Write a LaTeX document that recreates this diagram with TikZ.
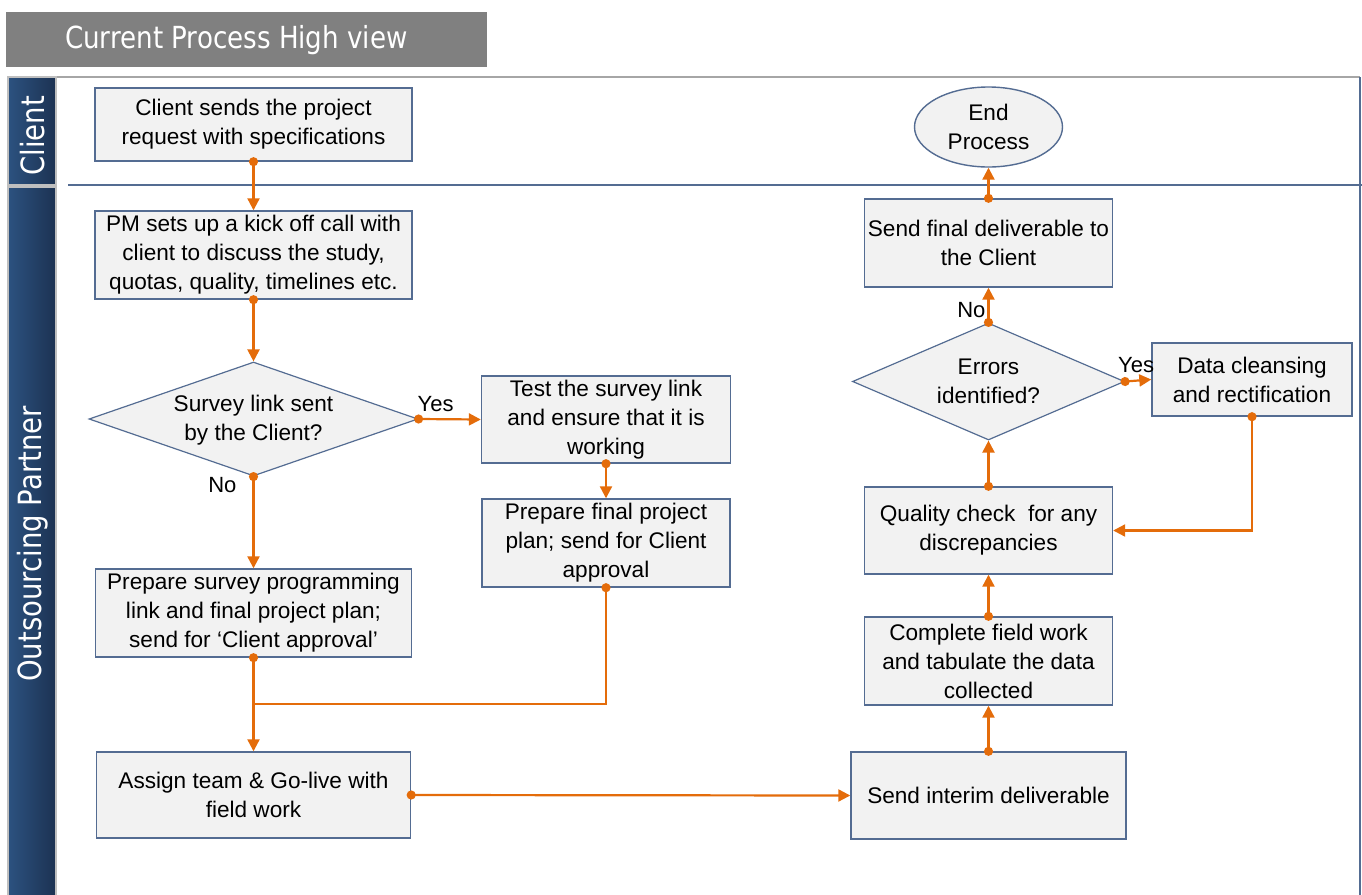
\documentclass[tikz,border=0pt]{standalone}
\usepackage{fontspec}
\setmainfont{Liberation Sans}
\newfontfamily\lanefont[FakeStretch=0.86]{DejaVu Sans}
\usetikzlibrary{shapes.geometric,arrows.meta}

\definecolor{procorange}{RGB}{228,108,10}
\definecolor{boxfill}{RGB}{242,242,242}
\definecolor{boxline}{RGB}{84,108,146}
\definecolor{laneblue}{RGB}{44,82,128}
\definecolor{lanedark}{RGB}{28,50,82}
\definecolor{titlegray}{RGB}{128,128,128}

\tikzset{
  procbox/.style={draw=boxline, fill=boxfill, line width=0.7pt, align=center,
    inner sep=1pt, font=\fontsize{11.3}{14.5}\selectfont},
  decision/.style={diamond, draw=boxline, fill=boxfill, line width=0.6pt, inner sep=0pt},
  flow/.style={draw=procorange, line width=1.1pt, shorten <=-2.25pt,
    {Circle[length=4.5pt]}-{Triangle[length=6pt,width=6pt]}},
  flowline/.style={draw=procorange, line width=1.1pt, shorten <=-2.25pt, {Circle[length=4.5pt]}-},
  lbl/.style={font=\fontsize{11}{13}\selectfont, inner sep=1pt},
  lanelbl/.style={rotate=90, text=white, font=\lanefont\fontsize{16}{19}\selectfont},
}

\begin{document}
\begin{tikzpicture}[x=0.5pt,y=-0.5pt]
  \useasboundingbox (0,0) rectangle (1362,895);

  % title and swimlanes
  \fill[titlegray] (6,12) rectangle (487,67);
  \node[anchor=west, text=white, font=\lanefont\fontsize{15.2}{18}\selectfont] (title) at (58,40) {Current Process High view};
  \draw[gray!70, line width=0.8pt] (8,77) -- (1360,77);
  \draw[boxline, line width=1pt] (1360,77) -- (1360,895);
  \shade[left color=laneblue, right color=lanedark, draw=gray!50, line width=1pt] (8,77) rectangle (56,185);
  \shade[left color=laneblue, right color=lanedark, draw=gray!50, line width=1pt] (8,187) rectangle (56,900);
  \node[lanelbl] (clientlane) at (33,136) {Client};
  \node[lanelbl] (partnerlane) at (33,544) {Outsourcing Partner};
  \draw[boxline, line width=1.2pt] (68,185) -- (1362,185);

  % left column
  \node[procbox, minimum width=158.5pt, minimum height=36.5pt] (request) at (253.5,124.5)
    {Client sends the project\\request with specifications};
  \node[procbox, minimum width=158.5pt, minimum height=44pt] (kickoff) at (253.5,255)
    {PM sets up a kick off call with\\client to discuss the study,\\quotas, quality, timelines etc.};
  \node[decision, minimum width=164.5pt, minimum height=57pt] (linksent) at (253.5,419) {};
  \node[align=center, font=\fontsize{11.3}{14.5}\selectfont] (linksenttxt) at (253.5,420)
    {Survey link sent\\by the Client?};
  \node[procbox, minimum width=158pt, minimum height=44pt] (progplan) at (253.5,613)
    {Prepare survey programming\\link and final project plan;\\send for `Client approval'};
  \node[procbox, minimum width=157pt, minimum height=43pt] (golive) at (253.5,795)
    {Assign team \& Go-live with\\field work};

  % middle column
  \node[procbox, minimum width=124.5pt, minimum height=43.5pt] (testlink) at (606,419.5)
    {Test the survey link\\and ensure that it is\\working};
  \node[procbox, minimum width=124pt, minimum height=44pt] (finalplan) at (606,543)
    {Prepare final project\\plan; send for Client\\approval};
  \coordinate (merge) at (253.5,704);

  % right column
  \node[procbox, minimum width=137.5pt, minimum height=43.5pt] (interim) at (988.5,795.5)
    {Send interim deliverable};
  \node[procbox, minimum width=124pt, minimum height=44pt] (fieldwork) at (988.5,661)
    {Complete field work\\and tabulate the data\\collected};
  \node[procbox, minimum width=124pt, minimum height=43.5pt] (quality) at (988.5,530.5)
    {Quality check~ for any\\discrepancies};
  \node[decision, minimum width=136pt, minimum height=58.5pt] (errors) at (988.5,381.5) {};
  \node[align=center, font=\fontsize{11.3}{14.5}\selectfont] (errorstxt) at (988.5,381.5)
    {Errors\\identified?};
  \node[procbox, minimum width=100pt, minimum height=36.5pt] (cleansing) at (1252,379.5)
    {Data cleansing\\and rectification};
  \node[procbox, minimum width=124pt, minimum height=44pt] (finaldel) at (988.5,243)
    {Send final deliverable to\\the Client};
  \node[ellipse, draw=boxline, fill=boxfill, line width=0.7pt, inner sep=0pt, align=center,
    minimum width=74pt, minimum height=40pt, font=\fontsize{11.3}{14.5}\selectfont] (endproc) at (988.5,127)
    {End\\Process};

  % connectors
  \draw[flow] (request.south) -- (kickoff.north);
  \draw[flow] (kickoff.south) -- (linksent.north);
  \draw[flow] (linksent.east) -- (testlink.west) node[lbl, pos=0, above right, yshift=2pt, xshift=-2pt] (yes1) {Yes};
  \draw[flow] (linksent.south) -- (progplan.north) node[lbl, pos=0, below left, xshift=-7pt, yshift=1pt] (no1) {No};
  \draw[flow] (testlink.south) -- (finalplan.north);
  \draw[flowline] (finalplan.south) |- (merge);
  \draw[flow] (progplan.south) -- (golive.north);
  \draw[flow] (golive.east) -- (interim.west);
  \draw[flow] (interim.north) -- (fieldwork.south);
  \draw[flow] (fieldwork.north) -- (quality.south);
  \draw[flow] (quality.north) -- (errors.south);
  \draw[flow] (errors.north) -- (finaldel.south) node[lbl, pos=0, above left, yshift=1pt] (no2) {No};
  \draw[flow] (errors.east) -- (cleansing.west) node[lbl, pos=0, above right, xshift=-5pt, yshift=3pt] (yes2) {Yes};
  \draw[flow] (cleansing.south) |- (quality.east);
  \draw[flow] (finaldel.north) -- (endproc.south);
\end{tikzpicture}
\end{document}
